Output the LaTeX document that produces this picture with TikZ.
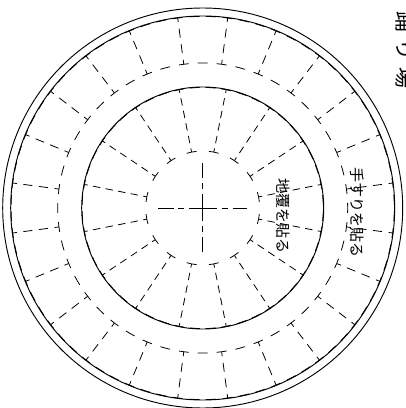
\documentclass[tikz,border=0pt]{standalone}
\usepackage{fontspec}
\usetikzlibrary{calc}
\newfontfamily\cjk{Noto Sans CJK JP}
\tikzset{
  solidring/.style={draw=black,line width=0.7pt,fill=none},
  thin dashes/.style={draw=black,line width=0.6pt},
  outerspoke/.style={thin dashes,dash pattern=on 6.75pt off 5pt,dash phase=3.375pt},
  innerspoke/.style={thin dashes,dash pattern=on 5.6pt off 4pt,dash phase=2.8pt},
  seglarge/.style={thin dashes,dash pattern=on 7.5pt off 6.74pt,dash phase=3.75pt},
  segsmall/.style={thin dashes,dash pattern=on 7.5pt off 9.29pt,dash phase=3.75pt},
  segrim/.style={thin dashes,dash pattern=on 7.5pt off 5.07pt,dash phase=3.75pt},
  segmid/.style={thin dashes,dash pattern=on 7.5pt off 4.38pt,dash phase=3.75pt},
  crossline/.style={thin dashes,dash pattern=on 11.5pt off 3.6pt on 4.5pt off 3.8pt on 20.5pt off 3.8pt on 4.5pt off 3.6pt on 11.5pt off 5pt},
  lab/.style={rotate=-90,inner sep=0pt,text=black}
}
\begin{document}
\begin{tikzpicture}[x=0.75pt,y=0.75pt]
\useasboundingbox (0,0) rectangle (406,408);
\coordinate (c) at (202.7,200);
\draw[solidring] (c) circle [radius=200];
\draw[solidring] (c) circle [radius=192];
\draw[solidring] (c) circle [radius=121];
\foreach \a in {0,...,23}{
  \pgfmathsetmacro{\t}{7.5+15*\a}
  \draw[outerspoke] ($(c)+(\t:145)$) -- ($(c)+(\t:192)$);
  \draw[seglarge] ($(c)+(\t:145)$) arc [start angle=\t,end angle=\t+15,radius=145];
  \draw[segrim] ($(c)+(\t:191.6)$) arc [start angle=\t,end angle=\t+15,radius=191.6];
}
\foreach \a in {0,...,15}{
  \pgfmathsetmacro{\t}{11.25+22.5*\a}
  \draw[innerspoke] ($(c)+(\t:57)$) -- ($(c)+(\t:121)$);
  \draw[segsmall] ($(c)+(\t:57)$) arc [start angle=\t,end angle=\t+22.5,radius=57];
  \draw[segmid] ($(c)+(\t:120.6)$) arc [start angle=\t,end angle=\t+22.5,radius=120.6];
}
\draw[crossline] ($(c)+(0,-44.5)$) -- ($(c)+(0,44.5)$);
\draw[crossline] ($(c)+(-44.5,0)$) -- ($(c)+(44.5,0)$);
\node[lab,font=\cjk\fontsize{11.25pt}{12pt}\selectfont] (handrail) at (357,195) {手すりを貼る};
\node[lab,font=\cjk\fontsize{11.25pt}{12pt}\selectfont] (curb) at (283.5,191.5) {地覆を貼る};
\node[lab,font=\cjk\fontsize{15.75pt}{17pt}\selectfont\addfontfeature{LetterSpace=33}] (landing) at (405.5,358) {踊り場};
\end{tikzpicture}
\end{document}
